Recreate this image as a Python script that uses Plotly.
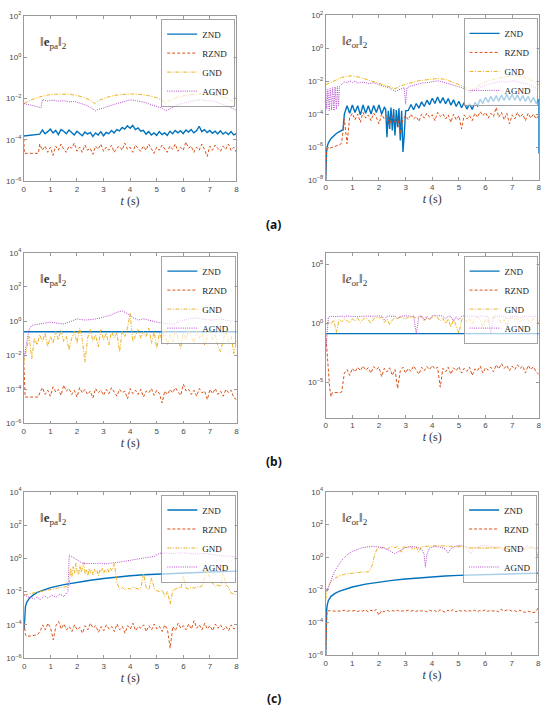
import plotly.graph_objects as go
from plotly.subplots import make_subplots

# ── Colours (MATLAB default order) ───────────────────────────────────────────
C_ZND = "#0072BD"
C_RZND = "#D95319"
C_GND = "#EDB120"
C_AGND = "#B04BC8"
AXIS_COL = "#9a9a9a"
TICK_COL = "#4a4a4a"

NAMES = ["ZND", "RZND", "GND", "AGND"]
X_TICKS = [0, 1, 2, 3, 4, 5, 6, 7, 8]


def grid(a, b, step):
    n = int(round((b - a) / step)) + 1
    return [round(a + i * step, 3) for i in range(n)]


# time grid used by the noisy traces (sampled every 0.1 s)
T_NOISE = grid(0.6, 8.0, 0.1)

# ── all values are log10 of the error norm ──────────────────────────────────
# (a) left : ||e_pa||_2
A1_ZND_T = [0.0] + T_NOISE
A1_ZND = [-3.81,
          -3.72, -3.52, -3.70, -3.60, -3.48, -3.66, -3.54, -3.74, -3.50, -3.58,
          -3.70, -3.52, -3.64, -3.76, -3.58, -3.68, -3.80, -3.62, -3.72, -3.64,
          -3.84, -3.66, -3.76, -3.60, -3.80, -3.64, -3.70, -3.54, -3.66, -3.50,
          -3.56, -3.40, -3.48, -3.32, -3.44, -3.30, -3.50, -3.42, -3.58, -3.54,
          -3.72, -3.60, -3.76, -3.66, -3.78, -3.60, -3.74, -3.66, -3.78, -3.58,
          -3.70, -3.54, -3.66, -3.56, -3.70, -3.52, -3.62, -3.50, -3.66, -3.56,
          -3.34, -3.60, -3.50, -3.64, -3.54, -3.68, -3.58, -3.70, -3.56, -3.72,
          -3.62, -3.74, -3.60, -3.76, -3.70]
A1_RZND_T = [0.0, 0.02, 0.55] + T_NOISE
A1_RZND = [-3.95, -4.65, -4.65,
           -4.20, -4.50, -4.30, -4.60, -4.35, -4.75, -4.30, -4.50, -4.20, -4.45,
           -4.60, -4.30, -4.40, -4.15, -4.55, -4.35, -4.60, -4.25, -4.50, -4.40,
           -4.70, -4.30, -4.45, -4.20, -4.55, -4.35, -4.50, -4.25, -4.60, -4.40,
           -4.30, -4.50, -4.15, -4.45, -4.35, -4.60, -4.25, -4.40, -4.55, -4.30,
           -4.50, -4.20, -4.45, -4.65, -4.35, -4.50, -4.25, -4.40, -4.60, -4.30,
           -4.45, -4.20, -4.55, -4.35, -4.50, -4.10, -4.40, -4.30, -4.60, -4.35,
           -4.50, -4.20, -4.45, -4.80, -4.30, -4.50, -4.25, -4.40, -4.55, -4.30,
           -4.45, -4.20, -4.50, -4.35, -4.60]
A1_GND_T = [0, 0.3, 0.6, 0.9, 1.2, 1.4, 1.7, 2.0, 2.3, 2.5, 2.67, 2.85, 3.1, 3.4, 3.7,
            4.05, 4.4, 4.7, 5.0, 5.2, 5.35, 5.5, 5.8, 6.1, 6.4, 6.7, 7.0, 7.3, 7.6, 8.0]
A1_GND = [-2.24, -2.05, -1.92, -1.83, -1.79, -1.78, -1.79, -1.85, -1.96, -2.08,
          -2.24, -2.08, -1.95, -1.85, -1.80, -1.78, -1.80, -1.86, -1.96, -2.08,
          -2.24, -2.08, -1.93, -1.84, -1.79, -1.78, -1.80, -1.86, -1.97, -2.20]
A1_AGND_T = [0, 0.3, 0.65, 0.7, 0.9, 1.1, 1.3, 1.5, 1.7, 1.9, 2.1, 2.3, 2.5, 2.7, 2.8,
             3.0, 3.2, 3.4, 3.6, 3.8, 4.0, 4.2, 4.4, 4.6, 4.8, 5.0, 5.2, 5.35, 5.5,
             5.7, 5.9, 6.1, 6.3, 6.5, 6.7, 6.9, 7.1, 7.3, 7.5, 7.7, 7.9, 8.0]
A1_AGND = [-2.24, -2.32, -2.44, -2.05, -2.12, -2.08, -2.13, -2.10, -2.16, -2.14,
           -2.22, -2.30, -2.42, -2.60, -2.52, -2.46, -2.36, -2.28, -2.20, -2.14,
           -2.06, -2.10, -2.14, -2.20, -2.30, -2.38, -2.46, -2.60, -2.48, -2.36,
           -2.26, -2.18, -2.12, -2.08, -2.06, -2.10, -2.12, -2.20, -2.28, -2.38,
           -2.50, -2.58]

# (a) right : ||e_or||_2
A2_ZND_T = ([0, 0.01, 0.03, 0.06, 0.1, 0.2, 0.3, 0.4, 0.5, 0.6, 0.65]
            + grid(0.7, 2.2, 0.1) + grid(2.25, 3.0, 0.05) + grid(3.1, 8.0, 0.1) + [8.0])
A2_ZND = [-8.0, -6.8, -6.3, -5.95, -5.75, -5.48, -5.3, -5.18, -5.08, -5.0, -4.95,
          -4.00, -3.50, -3.95, -3.45, -3.90, -3.50, -4.05, -3.45, -3.95, -3.50,
          -4.00, -3.48, -3.90, -3.45, -4.00, -3.60,
          -3.70, -5.40, -3.80, -4.90, -3.60, -5.00, -3.70, -5.30, -3.75, -4.80,
          -3.65, -5.60, -3.80, -6.30, -5.20, -3.80,
          -3.78, -3.42, -3.74, -3.36, -3.64, -3.26, -3.54, -3.16, -3.44, -3.04,
          -3.36, -2.96, -3.34, -3.00, -3.38, -3.06, -3.46, -3.14, -3.54, -3.22,
          -3.62, -3.30, -3.70, -3.38, -3.72, -3.30, -3.50, -3.10, -3.36, -2.98,
          -3.30, -2.92, -3.24, -2.88, -3.22, -2.84, -3.18, -2.80, -3.16, -2.80,
          -3.16, -2.84, -3.20, -2.88, -3.24, -2.92, -3.30, -2.98, -3.36, -3.10,
          -6.40]
A2_RZND_T = [0, 0.03, 0.1, 0.3, 0.5, 0.55] + T_NOISE
A2_RZND = [-8.0, -6.1, -6.1, -6.0, -5.9, -5.85,
           -5.70, -4.30, -5.80, -4.20, -3.95, -4.35, -4.00, -4.50, -3.90, -4.25,
           -4.05, -4.40, -3.95, -4.20, -4.60, -4.00, -4.30, -4.10, -4.70, -4.05,
           -4.50, -4.20, -5.20, -4.30, -4.10, -4.35, -4.00, -4.30, -4.15, -4.45,
           -4.00, -4.25, -3.95, -4.20, -4.05, -4.40, -3.90, -4.15, -4.00, -4.30,
           -4.05, -4.50, -4.00, -4.35, -4.10, -4.90, -4.05, -4.30, -4.10, -4.40,
           -3.95, -4.20, -3.85, -4.10, -3.90, -4.25, -3.95, -4.15, -3.60, -4.20,
           -3.90, -4.35, -3.95, -4.60, -4.05, -4.30, -3.90, -4.20, -4.00, -4.40,
           -3.95, -4.25, -4.00, -4.30, -4.10]
A2_GND_T = [0, 0.3, 0.6, 0.95, 1.3, 1.7, 2.1, 2.4, 2.6, 2.8, 3.1, 3.5, 3.9, 4.2, 4.5,
            4.9, 5.2, 5.45, 5.7, 6.0, 6.4, 6.8, 7.1, 7.4, 7.7, 8.0]
A2_GND = [-2.22, -1.98, -1.78, -1.68, -1.78, -1.98, -2.18, -2.34, -2.46, -2.30,
          -2.14, -1.98, -1.88, -1.84, -1.90, -2.14, -2.34, -2.58, -2.30, -2.06,
          -1.86, -1.72, -1.66, -1.74, -1.94, -2.22]
A2_AGND_T = [0, 0.04, 0.08, 0.13, 0.17, 0.22, 0.26, 0.31, 0.35, 0.4, 0.44, 0.48, 0.52,
             0.6, 0.7, 0.8, 0.9, 1.0, 1.1, 1.2, 1.4, 1.6, 1.8, 2.0, 2.2, 2.4, 2.6, 2.8,
             2.95, 3.0, 3.05, 3.2, 3.4, 3.6, 3.8, 4.0, 4.2, 4.4, 4.6, 4.8, 5.0, 5.2,
             5.45, 5.6, 5.8, 6.0, 6.2, 6.4, 6.6, 6.8, 7.0, 7.2, 7.4, 7.6, 7.8, 8.0]
A2_AGND = [-2.45, -3.70, -2.50, -3.80, -2.45, -3.75, -2.40, -3.80, -2.35, -3.70,
           -2.30, -3.50, -2.30, -2.20, -2.05, -2.10, -1.98, -2.08, -2.00, -2.12,
           -2.06, -2.15, -2.10, -2.22, -2.30, -2.42, -2.62, -2.50, -2.40, -3.40,
           -2.40, -2.30, -2.20, -2.12, -2.10, -2.02, -1.98, -2.06, -2.15, -2.22,
           -2.35, -2.45, -2.70, -2.50, -2.35, -2.25, -2.15, -2.08, -2.02, -2.06,
           -1.98, -2.04, -2.10, -2.20, -2.35, -2.50]

# (b) left : ||e_pa||_2
B1_ZND_T = [0, 8]
B1_ZND = [-0.62, -0.62]
B1_RZND_T = [0, 0.05, 0.55] + T_NOISE
B1_RZND = [-2.4, -4.45, -4.45,
           -4.20, -3.90, -4.30, -4.05, -4.40, -3.85, -4.15, -4.00, -4.35, -3.75,
           -4.10, -3.95, -4.30, -4.05, -4.45, -3.90, -4.20, -4.00, -4.30, -4.10,
           -4.50, -3.95, -4.20, -4.05, -4.35, -4.00, -4.25, -3.90, -4.15, -4.40,
           -4.00, -4.20, -4.10, -4.55, -3.95, -4.25, -4.05, -4.30, -4.00, -4.45,
           -4.10, -4.20, -3.95, -4.35, -4.05, -4.25, -4.80, -4.10, -4.30, -4.00,
           -4.20, -3.90, -4.15, -4.35, -3.70, -4.10, -4.00, -4.30, -4.05, -4.40,
           -3.95, -4.20, -4.10, -4.60, -4.00, -4.25, -3.95, -4.30, -4.10, -4.40,
           -4.00, -4.20, -4.05, -4.50, -4.60]
B1_GND_T = grid(0.0, 8.0, 0.1)
B1_GND = [-2.4, -1.6, -0.9, -2.2, -1.0, -1.4, -0.8, -1.2, -0.7, -1.5,
          -0.9, -1.3, -0.6, -1.1, -0.5, -1.2, -0.9, -1.7, -1.0, -0.6,
          -1.3, -0.4, -1.1, -2.4, -1.0, -0.5, -1.2, -0.8, -1.5, -0.5,
          -1.1, -0.7, -1.4, -0.6, -1.0, -0.7, -1.8, -0.6, -0.9, -0.4,
          0.45, -1.2, -0.8, -0.5, -1.0, -0.6, -0.9, -0.4, -1.3, -0.6,
          -1.6, -0.7, -1.1, -0.5, -1.4, -0.8, -1.2, -0.6, -1.0, -1.6,
          -0.7, -1.1, -0.5, -0.9, -1.3, -0.6, -1.0, -0.7, -1.4, -0.9,
          -0.6, -1.1, -0.8, -1.5, -1.8, -1.1, -0.6, -1.2, -0.9, -1.9,
          -1.2]
B1_AGND_T = [0, 0.1, 0.2, 0.3, 0.5, 0.7, 1.0, 1.3, 1.5, 1.8, 2.0, 2.3, 2.6, 2.9, 3.1,
             3.3, 3.5, 3.7, 3.9, 4.1, 4.3, 4.5, 4.8, 5.0, 5.3, 5.6, 5.9, 6.2, 6.5,
             6.8, 7.1, 7.4, 7.7, 8.0]
B1_AGND = [-2.2, -1.25, -0.48, -0.25, -0.19, -0.13, -0.06, -0.13, -0.17, 0.0,
           0.13, 0.06, 0.10, 0.19, 0.29, 0.37, 0.52, 0.60, 0.44, 0.21,
           0.06, 0.13, 0.02, -0.06, -0.13, -0.19, 0.0, 0.13, 0.19, 0.10,
           0.06, 0.13, 0.02, -0.02]

# (b) right : ||e_or||_2
B2_ZND_T = [0, 8]
B2_ZND = [-0.85, -0.85]
B2_RZND_T = [0, 0.05, 0.15, 0.2, 0.25, 0.55] + T_NOISE
B2_RZND = [-0.85, -2.5, -5.5, -6.2, -5.85, -5.85,
           -5.80, -4.20, -3.90, -4.40, -3.80, -4.10, -3.70, -4.00, -3.60, -3.95,
           -3.75, -4.20, -3.65, -3.90, -3.70, -4.50, -3.80, -4.10, -3.75, -4.40,
           -3.90, -5.50, -4.00, -3.70, -4.20, -3.80, -4.05, -3.60, -3.90, -4.30,
           -3.70, -4.00, -3.65, -3.90, -3.55, -3.85, -3.70, -5.40, -3.80, -4.10,
           -3.70, -4.30, -3.75, -4.00, -3.65, -4.20, -3.80, -4.05, -3.70, -4.40,
           -3.85, -4.00, -3.60, -4.20, -3.75, -3.95, -3.70, -4.10, -3.50, -3.85,
           -3.40, -3.80, -3.55, -4.00, -3.60, -3.90, -3.50, -3.80, -3.60, -4.20,
           -3.55, -3.90, -3.65, -4.10, -4.30]
B2_GND_T = grid(0.0, 8.0, 0.1)
B2_GND = [-0.1, 0.2, 0.0, 0.3, -0.75, 0.35, 0.15, 0.4, 0.25, 0.05,
          0.4, 0.2, 0.45, 0.1, 0.35, 0.5, 0.3, 0.0, 0.4, 0.5,
          0.45, 0.55, 0.1, 0.4, -0.1, 0.3, 0.5, 0.45, 0.55, 0.5,
          0.4, 0.55, 0.5, 0.6, 0.45, 0.55, 0.6, 0.2, 0.5, 0.3,
          0.55, 0.6, 0.5, 0.2, 0.45, 0.0, 0.4, -0.3, 0.35, -0.2,
          -0.85, 0.3, 0.5, 0.1, 0.45, -0.1, 0.4, 0.55, 0.3, -0.3,
          0.4, 0.1, 0.45, 0.5, 0.55, 0.45, 0.0, 0.35, -0.2, 0.4,
          0.5, 0.3, 0.45, 0.1, 0.4, 0.5, 0.35, 0.05, 0.45, 0.4,
          0.0]
B2_AGND_T = grid(0.0, 8.0, 0.1)
B2_AGND = [-2.4, 0.55, 0.62, 0.6, 0.64, 0.6, 0.63, 0.58, 0.64, 0.62,
           0.6, 0.64, 0.58, 0.62, 0.64, 0.6, 0.63, 0.62, 0.64, 0.6,
           0.62, 0.65, 0.35, 0.62, 0.64, 0.6, 0.64, 0.4, 0.63, 0.65,
           0.62, 0.66, 0.6, 0.64, -0.85, 0.6, 0.66, 0.3, 0.62, 0.35,
           0.66, 0.7, 0.64, 0.68, 0.62, 0.4, 0.64, 0.6, 0.2, 0.58,
           0.3, 0.62, 0.66, 0.6, 0.64, 0.62, 0.66, 0.6, 0.64, 0.62,
           0.58, 0.6, -0.85, 0.62, 0.66, 0.6, 0.64, 0.62, 0.4, 0.63,
           0.6, 0.64, 0.62, 0.45, 0.6, 0.64, 0.6, 0.62, 0.58, 0.63,
           0.55]

# (c) left : ||e_pa||_2
C1_ZND_T = [0, 0.02, 0.05, 0.1, 0.2, 0.35, 0.5, 0.75, 1.0, 1.5, 2.0, 2.5, 3.0, 3.5,
            4.0, 4.5, 5.0, 5.5, 6.0, 6.5, 7.0, 7.5, 8.0]
C1_ZND = [-4.3, -3.3, -2.9, -2.65, -2.4, -2.2, -2.05, -1.9, -1.76, -1.58, -1.44,
          -1.32, -1.21, -1.12, -1.05, -0.99, -0.95, -0.91, -0.88, -0.85, -0.82,
          -0.8, -0.77]
C1_RZND_T = [0, 0.05, 0.1, 0.5] + T_NOISE
C1_RZND = [-3.9, -4.6, -4.7, -4.6,
           -4.40, -4.00, -4.30, -3.90, -4.20, -4.90, -4.05, -3.80, -4.25, -3.95,
           -4.30, -4.10, -4.40, -4.00, -4.30, -4.15, -4.50, -4.05, -4.30, -3.90,
           -4.20, -4.05, -4.45, -4.10, -4.35, -4.00, -4.25, -4.10, -4.40, -3.95,
           -4.30, -4.10, -4.50, -4.05, -4.25, -3.90, -4.35, -4.10, -4.20, -4.00,
           -4.40, -4.05, -4.30, -3.95, -4.25, -4.10, -4.40, -4.00, -4.30, -5.40,
           -4.10, -4.35, -3.90, -4.20, -4.05, -4.30, -3.95, -4.25, -3.75, -4.20,
           -4.00, -4.30, -3.90, -4.25, -4.05, -4.35, -3.95, -4.20, -4.00, -4.30,
           -4.10, -4.35, -4.00, -4.25, -4.15]
C1_GND_T = [0, 0.3, 0.6, 1.0, 1.3, 1.6, 1.7] + grid(1.75, 3.45, 0.05) + grid(3.5, 8.0, 0.1)
C1_GND = [-2.2, -2.1, -2.0, -1.85, -1.78, -1.7, -1.65,
          -0.60, -1.10, -0.50, -0.90, -0.30, -0.80, -1.00, -0.45, -0.85, -0.60,
          -0.25, -0.95, -0.70, -1.05, -0.60, -0.85, -0.70, -1.00, -0.65, -0.90,
          -0.75, -1.05, -0.70, -0.85, -0.60, -0.90, -0.70, -0.80, -0.65, -0.85,
          -0.60, -0.75, -0.45, -0.30, -0.90,
          -1.50, -1.85, -1.75, -1.90, -1.80, -1.85, -1.75, -1.80, -1.85, -1.75,
          -0.90, -1.80, -1.90, -1.20, -1.80, -1.95, -2.00, -1.90, -2.30, -2.00,
          -2.75, -1.90, -1.85, -1.75, -1.80, -1.05, -1.80, -1.85, -1.75, -1.80,
          -1.70, -1.75, -1.65, -1.20, -0.70, -1.30, -1.50, -1.70, -1.60, -1.70,
          -0.85, -1.60, -1.75, -2.10, -2.15, -2.20]
C1_AGND_T = [0, 0.2, 0.4, 0.5, 0.6, 0.75, 0.9, 1.05, 1.2, 1.35, 1.5, 1.65, 1.7, 1.8,
             2.0, 2.2, 2.5, 2.8, 3.1, 3.4, 3.7, 4.0, 4.3, 4.5, 4.7, 4.9, 5.1, 5.3,
             5.6, 5.9, 6.2, 6.5, 6.8, 7.1, 7.4, 7.7, 8.0]
C1_AGND = [-2.2, -2.35, -2.45, -2.3, -2.5, -2.25, -2.4, -2.2, -2.35, -2.15, -2.3,
           -2.0, 0.2, 0.1, -0.05, -0.3, -0.32, -0.3, -0.33, -0.28, -0.2, -0.12,
           -0.05, 0.02, 0.05, 0.12, 0.3, 0.32, 0.28, 0.33, 0.3, 0.26, 0.29, 0.22,
           0.15, 0.13, 0.08]

# (c) right : ||e_or||_2
C2_ZND_T = [0, 0.01, 0.03, 0.06, 0.1, 0.2, 0.35, 0.5, 0.75, 1.0, 1.5, 2.0, 2.5, 3.0,
            3.5, 4.0, 4.5, 5.0, 5.5, 6.0, 6.5, 7.0, 7.5, 8.0]
C2_ZND = [-6.0, -4.0, -3.3, -2.9, -2.65, -2.4, -2.22, -2.1, -1.95, -1.83, -1.65,
          -1.52, -1.42, -1.34, -1.27, -1.21, -1.16, -1.12, -1.09, -1.07, -1.04,
          -1.02, -1.0, -0.98]
C2_RZND_T = [0, 0.03, 0.05, 0.3] + T_NOISE
C2_RZND = [-6.0, -3.3, -3.28, -3.3,
           -3.30, -3.25, -3.32, -3.28, -3.30, -3.26, -3.33, -3.27, -3.30, -3.22,
           -3.36, -3.25, -3.32, -3.20, -3.55, -3.28, -3.35, -3.24, -3.32, -3.27,
           -3.30, -3.25, -3.33, -3.28, -3.31, -3.24, -3.30, -3.27, -3.33, -3.25,
           -3.30, -3.28, -3.34, -3.24, -3.31, -3.27, -3.36, -3.22, -3.30, -3.38,
           -3.25, -3.32, -3.20, -3.35, -3.26, -3.30, -3.24, -3.33, -3.28, -3.31,
           -3.25, -3.34, -3.27, -3.30, -3.23, -3.32, -3.26, -3.30, -3.28, -3.34,
           -3.18, -3.30, -3.25, -3.22, -3.30, -3.27, -3.35, -3.25, -3.32, -3.38,
           -3.30, -3.35, -3.40, -3.36, -3.10]
C2_GND_T = [0, 0.05, 0.1, 0.2, 0.35, 0.5, 0.75, 1.0, 1.3, 1.6, 1.65, 1.75, 1.85, 1.95,
            2.0, 2.1, 2.2, 2.3, 2.4, 2.5, 2.6, 2.7, 2.85, 2.9, 3.0, 3.2, 3.3, 3.4,
            3.5, 3.6, 3.8, 4.0, 4.2, 4.5, 4.8, 5.0, 5.2, 5.5, 5.8, 6.0, 6.3, 6.6,
            6.9, 7.2, 7.5, 7.8, 8.0]
C2_GND = [-2.6, -2.0, -1.75, -1.5, -1.3, -1.15, -1.03, -0.97, -0.93, -0.9, -0.85,
          -0.5, 0.2, 0.55, 0.62, 0.55, 0.62, 0.45, 0.6, 0.64, 0.58, 0.64, 0.3, 0.62,
          0.6, 0.65, 0.45, 0.63, 0.3, 0.64, 0.66, 0.68, 0.7, 0.68, 0.66, 0.64, 0.6,
          0.62, 0.58, 0.55, 0.6, 0.55, 0.52, 0.55, 0.5, 0.56, 0.55]
C2_AGND_T = [0, 0.05, 0.1, 0.2, 0.3, 0.4, 0.5, 0.6, 0.8, 1.0, 1.2, 1.4, 1.6, 1.8, 2.0,
             2.2, 2.4, 2.6, 2.8, 3.0, 3.2, 3.4, 3.6, 3.7, 3.75, 3.8, 3.9, 4.1, 4.3,
             4.5, 4.6, 4.7, 4.9, 5.1, 5.3, 5.45, 5.6, 5.8, 6.0, 6.2, 6.4, 6.6, 6.7,
             6.8, 7.0, 7.2, 7.4, 7.6, 7.8, 7.9, 8.0]
C2_AGND = [-2.0, -2.1, -1.85, -1.4, -1.0, -0.7, -0.42, -0.2, 0.14, 0.35, 0.48, 0.58,
           0.63, 0.66, 0.62, 0.55, 0.4, 0.2, 0.4, 0.58, 0.64, 0.62, 0.5, 0.2, -0.62,
           0.1, 0.55, 0.65, 0.62, 0.5, 0.25, 0.5, 0.68, 0.72, 0.6, 0.2, 0.55, 0.68,
           0.72, 0.66, 0.6, 0.62, 0.38, 0.58, 0.68, 0.62, 0.45, 0.66, 0.6, 0.5, 0.0]

PANELS = [
    # (row, col, series [(t, log10 value)], y range (log10), y ticks (log10))
    (1, 1, [(A1_ZND_T, A1_ZND), (A1_RZND_T, A1_RZND), (A1_GND_T, A1_GND), (A1_AGND_T, A1_AGND)],
     [-6, 2], [-6, -4, -2, 0, 2]),
    (1, 2, [(A2_ZND_T, A2_ZND), (A2_RZND_T, A2_RZND), (A2_GND_T, A2_GND), (A2_AGND_T, A2_AGND)],
     [-8, 2], [-8, -6, -4, -2, 0, 2]),
    (2, 1, [(B1_ZND_T, B1_ZND), (B1_RZND_T, B1_RZND), (B1_GND_T, B1_GND), (B1_AGND_T, B1_AGND)],
     [-6, 4], [-6, -4, -2, 0, 2, 4]),
    (2, 2, [(B2_ZND_T, B2_ZND), (B2_RZND_T, B2_RZND), (B2_GND_T, B2_GND), (B2_AGND_T, B2_AGND)],
     [-8, 6], [-5, 0, 5]),
    (3, 1, [(C1_ZND_T, C1_ZND), (C1_RZND_T, C1_RZND), (C1_GND_T, C1_GND), (C1_AGND_T, C1_AGND)],
     [-6, 4], [-6, -4, -2, 0, 2, 4]),
    (3, 2, [(C2_ZND_T, C2_ZND), (C2_RZND_T, C2_RZND), (C2_GND_T, C2_GND), (C2_AGND_T, C2_AGND)],
     [-6, 4], [-6, -4, -2, 0, 2, 4]),
]

# axis boxes in paper pixels (left, right, top, bottom) on a 550x717 page
W, H = 550, 717
BOXES = [(22, 236.5, 10, 178), (326.7, 541.7, 9.3, 176.7),
         (22, 236.7, 250.7, 424), (326.7, 541.7, 250.7, 418.3),
         (22.3, 236.7, 493.3, 662.3), (326.7, 541.2, 493.3, 659.3)]

LINE_STYLES = [dict(color=C_ZND, width=1.4, dash="solid"),
               dict(color=C_RZND, width=1.0, dash="3px,2px"),
               dict(color=C_GND, width=1.0, dash="4px,1.5px,1px,1.5px"),
               dict(color=C_AGND, width=1.0, dash="1px,1.2px")]

fig = make_subplots(rows=3, cols=2)

for k, (r, c, series, yr, yt) in enumerate(PANELS):
    for (t, v) in series:
        assert len(t) == len(v), (k, len(t), len(v))
    leg = "legend" if k == 0 else f"legend{k + 1}"
    for name, (t, v), style in zip(NAMES, series, LINE_STYLES):
        fig.add_trace(go.Scatter(x=t, y=[10 ** e for e in v], mode="lines", name=name,
                                 line=style, legend=leg, showlegend=True),
                      row=r, col=c)
    l, rr, tp, bt = BOXES[k]
    fig.update_xaxes(domain=[l / W, rr / W], range=[0, 8], tickvals=X_TICKS,
                     title=dict(text="<i>t</i> (s)", standoff=3,
                                font=dict(family="Liberation Serif", size=12, color="#333")),
                     row=r, col=c)
    fig.update_yaxes(domain=[1 - bt / H, 1 - tp / H], type="log", range=yr,
                     tickvals=[10 ** e for e in yt],
                     ticktext=[f"10<sup>{str(e).replace('-', '−')}</sup>" for e in yt],
                     row=r, col=c)
    # per-panel legend, top-right inside the box
    fig.layout[leg] = dict(x=(rr - 1) / W, y=1 - (tp + 3) / H, xanchor="right", yanchor="top",
                           bgcolor="rgba(255,255,255,0.65)", bordercolor="#8c8c8c",
                           borderwidth=0.8,
                           font=dict(family="Liberation Serif", size=9, color="#222"),
                           itemwidth=30, tracegroupgap=0)
    label = ("‖<b>e</b><sub>pa</sub>‖<sub>2</sub>" if c == 1
             else "‖<i>e</i><sub>or</sub>‖<sub>2</sub>")
    fig.add_annotation(text=label, xref="paper", yref="paper",
                       x=(l + 14) / W, y=1 - (tp + 27) / H, xanchor="left", yanchor="middle",
                       showarrow=False,
                       font=dict(family="Liberation Serif", size=13, color="#333"))

fig.update_xaxes(showline=True, linecolor=AXIS_COL, linewidth=0.8, mirror="ticks",
                 ticks="inside", ticklen=3, tickcolor=AXIS_COL, showgrid=False, zeroline=False,
                 tickfont=dict(family="Liberation Sans", size=8, color=TICK_COL))
fig.update_yaxes(showline=True, linecolor=AXIS_COL, linewidth=0.8, mirror="ticks",
                 ticks="inside", ticklen=3, tickcolor=AXIS_COL, showgrid=False, zeroline=False,
                 tickfont=dict(family="Liberation Sans", size=8, color=TICK_COL))

# sub-figure labels
for txt, py in [("(a)", 222), ("(b)", 463), ("(c)", 703)]:
    fig.add_annotation(text=f"<b>{txt}</b>", xref="paper", yref="paper", x=274 / W,
                       y=1 - py / H, showarrow=False, xanchor="center", yanchor="middle",
                       font=dict(family="Noto Sans", size=12, color="#111"))

fig.update_layout(width=W, height=H, margin=dict(l=0, r=0, t=0, b=0),
                  paper_bgcolor="white", plot_bgcolor="white")

# the page body has a default 8px margin; drop it so the figure sits at (0, 0)
fig.write_html("out.html", config={"displayModeBar": False},
               post_script="document.body.style.margin='0px';")
